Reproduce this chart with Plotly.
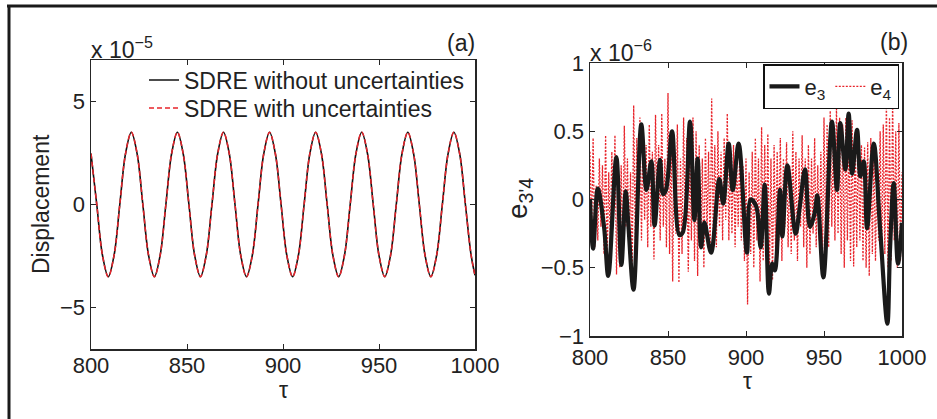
import plotly.graph_objects as go

W, H = 937, 419

# ---------------- Panel (a) data (displacement in units of 1e-5) ----------------
tau_a = [800, 803, 806, 809, 812, 815, 818, 821, 824, 827, 830, 833, 836, 839, 842, 845,
         848, 851, 854, 857, 860, 863, 866, 869, 872, 875, 878, 881, 884, 887, 890, 893,
         896, 899, 902, 905, 908, 911, 914, 917, 920, 923, 926, 929, 932, 935, 938, 941,
         944, 947, 950, 953, 956, 959, 962, 965, 968, 971, 974, 977, 980, 983, 986, 989,
         992, 995, 998, 1000]
disp_a = [2.47, 0, -2.47, -3.5, -2.47, 0, 2.47, 3.5, 2.47, 0, -2.47, -3.5, -2.47, 0, 2.47, 3.5,
          2.47, 0, -2.47, -3.5, -2.47, 0, 2.47, 3.5, 2.47, 0, -2.47, -3.5, -2.47, 0, 2.47, 3.5,
          2.47, 0, -2.47, -3.5, -2.47, 0, 2.47, 3.5, 2.47, 0, -2.47, -3.5, -2.47, 0, 2.47, 3.5,
          2.47, 0, -2.47, -3.5, -2.47, 0, 2.47, 3.5, 2.47, 0, -2.47, -3.5, -2.47, 0, 2.47, 3.5,
          2.47, 0, -2.47, -3.43]
disp_a_unc = list(disp_a)

# ---------------- Panel (b) data (errors in units of 1e-6) ----------------
tau_e3 = [800, 802, 805, 809, 811.7, 816.9, 820.1, 822.9, 824.5, 827.9, 832.9, 836.2, 839.3,
          841.4, 844.9, 846.8, 848.7, 852.6, 857.3, 859.5, 864.1, 866.9, 869.0, 871.2, 873.3,
          877.6, 882.9, 885.4, 888.9, 891.5, 895.3, 900.6, 903, 906.5, 909.4, 912, 914.7,
          916.8, 918.5, 921.8, 923.3, 926.5, 931.8, 934.5, 937.8, 941, 944, 945.7, 949.6,
          955.1, 958.3, 960.4, 963.7, 965.8, 968, 971.2, 973.3, 975.5, 977.6, 981.9, 986,
          990.6, 992.3, 994.7, 997.4, 1000]
e3 = [0.0, -0.36, 0.08, -0.2, -0.56, 0.31, -0.48, 0.06, -0.17, -0.66, 0.55, 0.07, 0.28,
      -0.19, 0.29, 0.04, 0.07, 0.50, -0.26, -0.24, 0.57, -0.15, 0.30, -0.35, -0.17,
      -0.39, 0.15, -0.03, 0.41, 0.07, 0.41, -0.39, 0.0, -0.05, -0.35, 0.11, -0.69,
      -0.47, -0.52, 0.07, -0.27, 0.25, -0.25, -0.05, 0.22, -0.2, -0.1, 0.03, -0.57,
      0.57, 0.07, 0.56, 0.22, 0.63, 0.19, 0.51, 0.17, 0.28, -0.21, 0.41, -0.22,
      -0.91, -0.37, 0.12, -0.47, -0.17]

tau_e4 = list(range(800, 1001))
e4 = [0.35, -0.25, 0.45, -0.35, 0.1, -0.3, 0.3, -0.2, 0.25, -0.4,
      0.47, -0.45, 0.2, -0.3, 0.35, -0.1, 0.47, -0.55, 0.3, -0.5,
      0.25, -0.45, 0.54, -0.2, 0.3, -0.4, 0.2, -0.6, 0.69, -0.3,
      0.45, -0.1, 0.6, -0.3, 0.5, -0.15, 0.4, -0.35, 0.55, -0.2,
      0.35, -0.44, 0.62, -0.1, 0.4, -0.3, 0.63, -0.2, 0.3, -0.35,
      0.78, -0.4, 0.5, -0.6, 0.45, -0.25, 0.55, -0.61, 0.3, -0.4,
      0.6, -0.2, 0.45, -0.53, 0.35, -0.3, 0.6, -0.45, 0.5, -0.56,
      0.4, -0.35, 0.3, -0.5, 0.45, -0.25, 0.35, -0.4, 0.74, -0.3,
      0.4, -0.35, 0.5, -0.2, 0.35, -0.3, 0.45, -0.15, 0.63, -0.3,
      0.35, -0.25, 0.4, -0.35, 0.3, -0.2, 0.38, -0.3, 0.25, -0.45,
      0.3, -0.77, 0.2, -0.4, 0.35, -0.5, 0.45, -0.3, 0.3, -0.6,
      0.53, -0.45, 0.4, -0.3, 0.48, -0.55, 0.3, -0.59, 0.4, -0.4,
      0.35, -0.3, 0.45, -0.45, 0.3, -0.2, 0.42, -0.35, 0.25, -0.4,
      0.5, -0.3, 0.35, -0.45, 0.3, -0.2, 0.47, -0.35, 0.3, -0.5,
      0.4, -0.4, 0.3, -0.25, 0.45, -0.35, 0.25, -0.3, 0.35, -0.45,
      0.6, -0.3, 0.55, -0.35, 0.65, -0.2, 0.5, -0.3, 0.69, -0.25,
      0.6, -0.4, 0.55, -0.5, 0.6, -0.3, 0.5, -0.45, 0.58, -0.49,
      0.5, -0.35, 0.45, -0.3, 0.4, -0.45, 0.38, -0.5, 0.42, -0.56,
      0.45, -0.4, 0.35, -0.45, 0.3, -0.3, 0.5, -0.45, 0.55, -0.4,
      0.72, -0.5, 0.6, -0.45, 0.73, -0.3, 0.5, -0.5, 0.56, -0.45,
      0.2]

x_ticks = [800, 850, 900, 950, 1000]
x_ticktext = ["800", "850", "900", "950", "1000"]
ya_ticks = [-5, 0, 5]
ya_ticktext = ["\u22125", "0", "5"]
yb_ticks = [-1, -0.5, 0, 0.5, 1]
yb_ticktext = ["\u22121", "\u22120.5", "0", "0.5", "1"]

FONT = "Liberation Sans, Arial, sans-serif"
AX = "#262626"
RED = "#e8242b"

fig = go.Figure()

fig.add_trace(go.Scatter(x=tau_a, y=disp_a, mode="lines", name="SDRE without uncertainties",
                         line=dict(color="#111111", width=1.6, shape="spline"),
                         xaxis="x", yaxis="y", legend="legend"))
fig.add_trace(go.Scatter(x=tau_a, y=disp_a_unc, mode="lines", name="SDRE with uncertainties",
                         line=dict(color=RED, width=1.5, dash="5px,3px", shape="spline"),
                         xaxis="x", yaxis="y", legend="legend3"))

fig.add_trace(go.Scatter(x=tau_e4, y=e4, mode="lines", name="e<sub>4</sub>",
                         line=dict(color=RED, width=1.3, dash="2px,1.5px"),
                         xaxis="x2", yaxis="y2", legend="legend2", legendrank=2))
fig.add_trace(go.Scatter(x=tau_e3, y=e3, mode="lines", name="e<sub>3</sub>",
                         line=dict(color="#1a1a1a", width=4.2, shape="spline"),
                         xaxis="x2", yaxis="y2", legend="legend2", legendrank=1))

axis_common = dict(showline=True, linecolor=AX, linewidth=1.5, mirror="ticks",
                   ticks="inside", ticklen=5, tickcolor=AX, tickwidth=1,
                   showgrid=False, zeroline=False, automargin=False,
                   tickfont=dict(family=FONT, size=22, color="#222222"))

leg_a = dict(xanchor="left", yanchor="middle", bgcolor="rgba(255,255,255,0)", borderwidth=0,
             font=dict(family=FONT, size=23, color="#222222"), itemwidth=30)

fig.update_layout(
    template="none",
    width=W, height=H, autosize=False,
    margin=dict(l=0, r=0, t=0, b=0, pad=0, autoexpand=False),
    paper_bgcolor="white", plot_bgcolor="white",
    font=dict(family=FONT, color="#222222"),
    xaxis=dict(domain=[91 / W, 475 / W], range=[800, 1000], tickvals=x_ticks,
               ticktext=x_ticktext, anchor="y", ticklabelstandoff=-4, **axis_common),
    yaxis=dict(domain=[1 - 349 / H, 1 - 60 / H], range=[-7, 7], tickvals=ya_ticks,
               ticktext=ya_ticktext, anchor="x", **axis_common),
    xaxis2=dict(domain=[590 / W, 902 / W], range=[800, 1000], tickvals=x_ticks,
                ticktext=x_ticktext, anchor="y2", ticklabelstandoff=1, **axis_common),
    yaxis2=dict(domain=[1 - 336 / H, 1 - 63 / H], range=[-1, 1], tickvals=yb_ticks,
                ticktext=yb_ticktext, anchor="x2", **axis_common),
    legend=dict(x=144 / W, y=1 - 80 / H, **leg_a),
    legend3=dict(x=144 / W, y=1 - 108 / H, **leg_a),
    legend2=dict(x=899 / W, y=1 - 64 / H, xanchor="right", yanchor="top",
                 orientation="h", bgcolor="white", bordercolor="#111111", borderwidth=1.5,
                 font=dict(family=FONT, size=22, color="#222222"), itemwidth=30),
    showlegend=True,
)

ann = []
def add_text(x, y, text, size, xanchor="center", yanchor="middle", angle=0):
    ann.append(dict(x=x / W, y=1 - y / H, xref="paper", yref="paper", text=text,
                    showarrow=False, xanchor=xanchor, yanchor=yanchor, textangle=angle,
                    font=dict(family=FONT, size=size, color="#222222")))

add_text(89, 65, "x 10<sup>\u22125</sup>", 23, xanchor="left", yanchor="bottom")
add_text(477, 43, "(a)", 23, xanchor="right")
add_text(588, 68, "x 10<sup>\u22126</sup>", 23, xanchor="left", yanchor="bottom")
add_text(910, 42, "(b)", 23, xanchor="right")
add_text(41, 204, "Displacement", 23, angle=-90)
add_text(519, 199, "e<sub>3'4</sub>", 28, angle=-90)
add_text(283, 390, "\u03c4", 23)
add_text(747, 381, "\u03c4", 23)
fig.update_layout(annotations=ann)

# figure frame (top and left border lines)
fig.update_layout(shapes=[
    dict(type="line", xref="paper", yref="paper", x0=7 / W, x1=1, y0=1 - 6 / H, y1=1 - 6 / H,
         line=dict(color="#1a1a1a", width=3)),
    dict(type="line", xref="paper", yref="paper", x0=9 / W, x1=9 / W, y0=0, y1=1 - 5 / H,
         line=dict(color="#1a1a1a", width=3)),
])

fig.write_html("out.html", config={"displayModeBar": False, "staticPlot": True},
               post_script="document.body.style.margin='0px';document.body.style.overflow='hidden';")
